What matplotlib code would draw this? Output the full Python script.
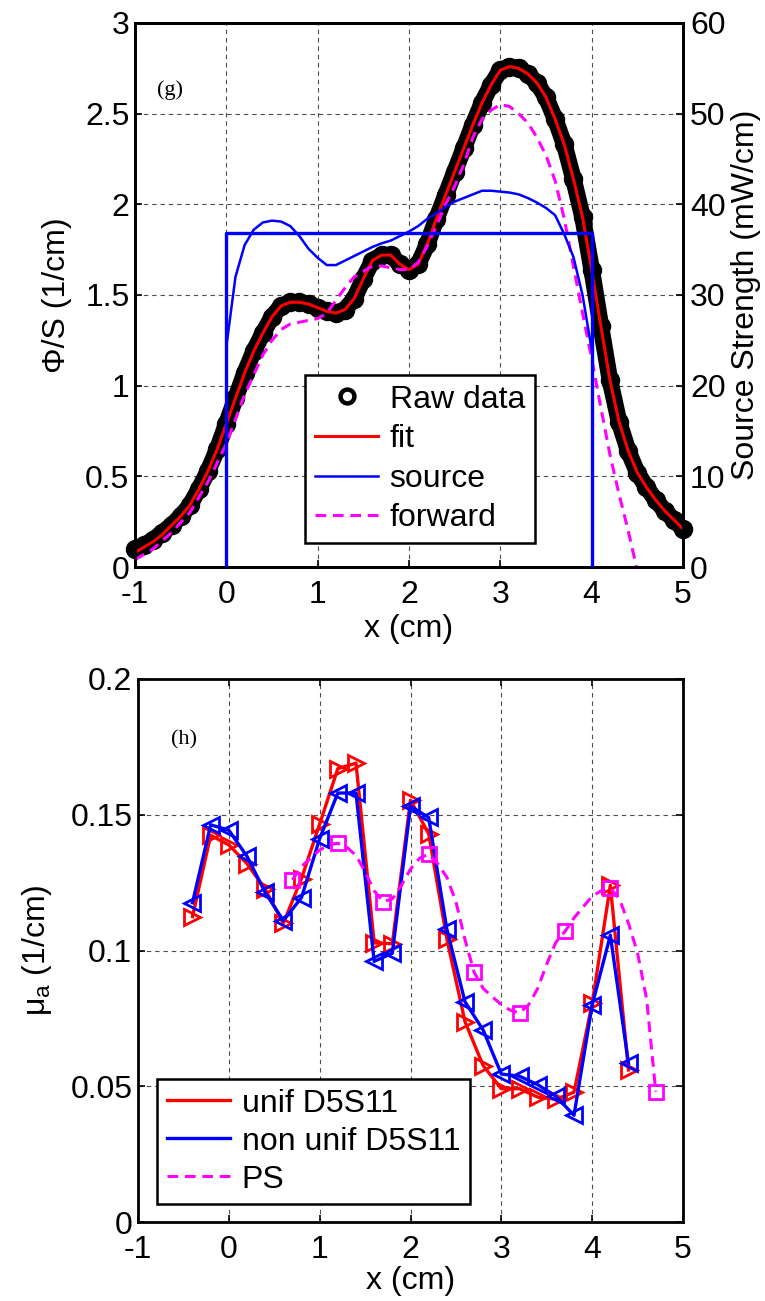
import matplotlib
matplotlib.use("Agg")
import matplotlib.pyplot as plt
from matplotlib.lines import Line2D
import numpy as np

plt.rcParams['font.family'] = ['Liberation Sans', 'DejaVu Sans']
plt.rcParams['mathtext.fontset'] = 'custom'
plt.rcParams['mathtext.rm'] = 'Liberation Sans'
plt.rcParams['mathtext.it'] = 'Liberation Sans'

# ---------------- panel (g) data ----------------
x_g = [-1.0, -0.9, -0.8, -0.7, -0.6, -0.5, -0.4, -0.3, -0.2, -0.1,
       0.0, 0.1, 0.2, 0.3, 0.4, 0.5, 0.6, 0.7, 0.8, 0.9,
       1.0, 1.1, 1.2, 1.3, 1.4, 1.5, 1.6, 1.7, 1.8, 1.9,
       2.0, 2.1, 2.2, 2.3, 2.4, 2.5, 2.6, 2.7, 2.8, 2.9,
       3.0, 3.1, 3.2, 3.3, 3.4, 3.5, 3.6, 3.7, 3.8, 3.9,
       4.0, 4.1, 4.2, 4.3, 4.4, 4.5, 4.6, 4.7, 4.8, 4.9, 5.0]
raw_data = [0.10, 0.12, 0.15, 0.19, 0.23, 0.28, 0.34, 0.43, 0.53, 0.65,
            0.79, 0.93, 1.07, 1.19, 1.29, 1.38, 1.44, 1.46, 1.46, 1.45,
            1.43, 1.41, 1.40, 1.42, 1.48, 1.59, 1.69, 1.72, 1.72, 1.67,
            1.64, 1.67, 1.78, 1.92, 2.05, 2.18, 2.31, 2.44, 2.56, 2.66,
            2.74, 2.76, 2.75, 2.72, 2.67, 2.59, 2.47, 2.33, 2.14, 1.93,
            1.64, 1.33, 1.03, 0.80, 0.64, 0.52, 0.44, 0.37, 0.31, 0.26, 0.21]
fit = [0.08, 0.11, 0.14, 0.18, 0.23, 0.28, 0.34, 0.43, 0.53, 0.65,
       0.79, 0.93, 1.07, 1.19, 1.29, 1.38, 1.44, 1.46, 1.46, 1.45,
       1.43, 1.41, 1.40, 1.42, 1.48, 1.59, 1.69, 1.72, 1.72, 1.67,
       1.64, 1.67, 1.78, 1.92, 2.05, 2.18, 2.31, 2.44, 2.56, 2.66,
       2.74, 2.76, 2.75, 2.72, 2.67, 2.59, 2.47, 2.33, 2.14, 1.93,
       1.64, 1.33, 1.03, 0.80, 0.64, 0.52, 0.44, 0.37, 0.31, 0.26, 0.21]
x_fwd = [-1.0, -0.8, -0.6, -0.4, -0.2, 0.0, 0.2, 0.4, 0.5, 0.6,
         0.7, 0.8, 0.9, 1.0, 1.1, 1.2, 1.3, 1.4, 1.5, 1.6,
         1.7, 1.8, 1.9, 2.0, 2.1, 2.2, 2.3, 2.4, 2.5, 2.6,
         2.7, 2.8, 2.9, 3.0, 3.1, 3.2, 3.3, 3.4, 3.5, 3.6,
         3.7, 3.8, 3.9, 4.0, 4.1, 4.2, 4.3, 4.4, 4.5]
forward = [0.04, 0.10, 0.19, 0.30, 0.47, 0.68, 0.95, 1.17, 1.25, 1.31,
           1.34, 1.35, 1.36, 1.37, 1.40, 1.47, 1.54, 1.60, 1.63, 1.66,
           1.66, 1.65, 1.64, 1.64, 1.68, 1.77, 1.88, 2.00, 2.10, 2.22,
           2.37, 2.47, 2.52, 2.55, 2.54, 2.50, 2.45, 2.37, 2.27, 2.13,
           1.92, 1.66, 1.40, 1.15, 0.88, 0.62, 0.40, 0.20, -0.02]
x_src = [0.0, 0.1, 0.2, 0.3, 0.4, 0.5, 0.6, 0.7, 0.8, 0.9,
         1.0, 1.1, 1.2, 1.3, 1.4, 1.5, 1.6, 1.7, 1.8, 1.9,
         2.0, 2.1, 2.2, 2.3, 2.4, 2.5, 2.6, 2.7, 2.8, 2.9,
         3.0, 3.1, 3.2, 3.3, 3.4, 3.5, 3.6, 3.7, 3.8, 3.9, 4.0]
source = [24.3, 32.0, 35.5, 37.2, 38.0, 38.2, 38.1, 37.6, 36.5, 35.1,
          34.1, 33.3, 33.3, 33.8, 34.3, 34.8, 35.3, 35.7, 36.0, 36.5,
          37.0, 37.6, 38.4, 39.0, 39.7, 40.3, 40.7, 41.1, 41.5, 41.5,
          41.4, 41.3, 41.1, 40.7, 40.2, 39.6, 38.8, 36.7, 34.2, 30.0, 24.0]
x_step = [0.0, 0.0, 4.0, 4.0]
source_step = [0.0, 36.8, 36.8, 0.0]

# ---------------- panel (h) data ----------------
x_h = [-0.4, -0.2, 0.0, 0.2, 0.4, 0.6, 0.8, 1.0, 1.2, 1.4, 1.6, 1.8, 2.0,
       2.2, 2.4, 2.6, 2.8, 3.0, 3.2, 3.4, 3.6, 3.8, 4.0, 4.2, 4.4]
unif = [0.1125, 0.1424, 0.1389, 0.1320, 0.1226, 0.1100, 0.1265, 0.1466, 0.1670,
        0.1690, 0.1028, 0.1025, 0.1554, 0.1430, 0.1043, 0.0738, 0.0576, 0.0491,
        0.0491, 0.0460, 0.0452, 0.0478, 0.0805, 0.1240, 0.0560]
nonunif = [0.1176, 0.1463, 0.1443, 0.1347, 0.1214, 0.1110, 0.1195, 0.1412, 0.1580,
           0.1580, 0.0960, 0.0990, 0.1531, 0.1490, 0.1079, 0.0811, 0.0707, 0.0545,
           0.0537, 0.0506, 0.0463, 0.0393, 0.0799, 0.1056, 0.0584]
x_ps = [0.7, 0.8, 0.9, 1.0, 1.1, 1.2, 1.3, 1.4, 1.5, 1.6,
        1.7, 1.8, 1.9, 2.0, 2.1, 2.2, 2.3, 2.4, 2.5, 2.6,
        2.7, 2.8, 2.9, 3.0, 3.1, 3.2, 3.3, 3.4, 3.5, 3.6,
        3.7, 3.8, 3.9, 4.0, 4.1, 4.2, 4.3, 4.4, 4.5, 4.6, 4.7]
ps = [0.126, 0.131, 0.134, 0.137, 0.139, 0.1395, 0.138, 0.135, 0.129, 0.122,
      0.118, 0.119, 0.124, 0.130, 0.134, 0.1355, 0.132, 0.127, 0.118, 0.104,
      0.092, 0.086, 0.083, 0.080, 0.078, 0.077, 0.080, 0.086, 0.095, 0.103,
      0.107, 0.112, 0.116, 0.120, 0.122, 0.123, 0.119, 0.110, 0.099, 0.082, 0.048]

x_ticks = [-1, 0, 1, 2, 3, 4, 5]
g_yticks = [0, 0.5, 1, 1.5, 2, 2.5, 3]
g_yticklabels = ['0', '0.5', '1', '1.5', '2', '2.5', '3']
g_y2ticks = [0, 10, 20, 30, 40, 50, 60]
h_yticks = [0, 0.05, 0.1, 0.15, 0.2]
h_yticklabels = ['0', '0.05', '0.1', '0.15', '0.2']

FS = 23
W, H = 765, 1301
fig = plt.figure(figsize=(W / 100, H / 100), dpi=100)


def style_axes(ax):
    for s in ax.spines.values():
        s.set_linewidth(2.0)
    ax.tick_params(direction='in', length=5, width=1.2, labelsize=FS, pad=4)
    ax.tick_params(axis='x', pad=9)
    ax.grid(True, color='0.3', linestyle=(0, (4, 3.5)), linewidth=0.8)
    ax.set_axisbelow(True)


# ---------------- top panel ----------------
ax1 = fig.add_axes([135 / W, 1 - 567 / H, 548 / W, 544 / H])
style_axes(ax1)
ax2 = ax1.twinx()
ax2.set_ylim(0, 60)
ax2.set_yticks(g_y2ticks)
ax2.tick_params(direction='in', length=5, width=1.2, labelsize=FS, pad=5)
for s in ax2.spines.values():
    s.set_linewidth(2.0)

ax1.plot(x_g, raw_data, color='black', lw=12, solid_capstyle='round', zorder=2)
ax1.plot(x_g, raw_data, linestyle='none', marker='o', ms=12.5,
         mfc='black', mec='black', mew=1.5, zorder=2, clip_on=False)
h_raw = Line2D([], [], linestyle='none', marker='o', ms=10, mfc='none',
               mec='black', mew=3.2)
h_fit, = ax1.plot(x_g, fit, color='red', lw=2.2, zorder=3, label='fit')
h_fwd, = ax1.plot(x_fwd, forward, color='#ff00ff', lw=2.2, dashes=(3.5, 2.2),
                  zorder=3, label='forward')
h_src, = ax2.plot(x_src, source, color='#0000ff', lw=1.8, zorder=3, label='source')
ax2.plot(x_step, source_step, color='#0000ff', lw=2.4, zorder=3)

ax1.set_xlim(-1, 5)
ax1.set_ylim(0, 3)
ax1.set_xticks(x_ticks)
ax1.set_xticklabels([str(t) for t in x_ticks])
ax1.set_yticks(g_yticks)
ax1.set_yticklabels(g_yticklabels)
ax1.set_xlabel('x (cm)', fontsize=FS, labelpad=3)
ax1.set_ylabel('Φ/S (1/cm)', fontsize=FS)
ax1.yaxis.set_label_coords((72 - 135) / 548, 0.5)
ax2.set_ylabel('Source Strength (mW/cm)', fontsize=FS, labelpad=4)
ax1.text(-0.62, 2.63, '(g)', family='Liberation Serif', fontsize=16,
         ha='center', va='center')

leg1 = ax2.legend([h_raw, h_fit, h_src, h_fwd], ['Raw data', 'fit', 'source', 'forward'],
                  loc='upper left', bbox_to_anchor=((305 - 135) / 548, (567 - 375) / 544),
                  borderaxespad=0, fontsize=FS, frameon=True, fancybox=False,
                  edgecolor='black', framealpha=1, handlelength=2.0,
                  handletextpad=0.35, labelspacing=0.3, borderpad=0.3)
leg1.get_frame().set_linewidth(1.8)

# ---------------- bottom panel ----------------
ax3 = fig.add_axes([138 / W, 1 - 1222 / H, 545 / W, 543 / H])
style_axes(ax3)
ax3.tick_params(top=True, right=True)

h_u, = ax3.plot(x_h, unif, color='red', lw=2.4, zorder=3, label='unif D5S11')
ax3.plot(x_h, unif, linestyle='none', marker='>', ms=11, mfc='none', mec='red',
         mew=2, zorder=3)
h_n, = ax3.plot(x_h, nonunif, color='#0000ff', lw=2.4, zorder=4, label='non unif D5S11')
ax3.plot(x_h, nonunif, linestyle='none', marker='<', ms=11, mfc='none', mec='#0000ff',
         mew=2, zorder=4)
h_p, = ax3.plot(x_ps, ps, color='#ff00ff', lw=2.2, dashes=(3.5, 2.2), zorder=5, label='PS')
ax3.plot(x_ps[::5], ps[::5], linestyle='none', marker='s', ms=10, mfc='none',
         mec='#ff00ff', mew=2, zorder=5)

ax3.set_xlim(-1, 5)
ax3.set_ylim(0, 0.2)
ax3.set_xticks(x_ticks)
ax3.set_xticklabels([str(t) for t in x_ticks])
ax3.set_yticks(h_yticks)
ax3.set_yticklabels(h_yticklabels)
ax3.set_xlabel('x (cm)', fontsize=FS, labelpad=1)
ax3.set_ylabel('μ$_\\mathrm{a}$ (1/cm)', fontsize=FS)
ax3.yaxis.set_label_coords((54 - 138) / 545, 0.5)
ax3.text(-0.49, 0.1775, '(h)', family='Liberation Serif', fontsize=16,
         ha='center', va='center')

leg2 = ax3.legend([h_u, h_n, h_p], ['unif D5S11', 'non unif D5S11', 'PS'],
                  loc='upper left', bbox_to_anchor=((157 - 138) / 545, (1222 - 1079) / 543),
                  borderaxespad=0, fontsize=FS, frameon=True, fancybox=False,
                  edgecolor='black', framealpha=1, handlelength=2.0,
                  handletextpad=0.35, labelspacing=0.25, borderpad=0.3)
leg2.get_frame().set_linewidth(1.8)

fig.savefig('out.png', dpi=100)
